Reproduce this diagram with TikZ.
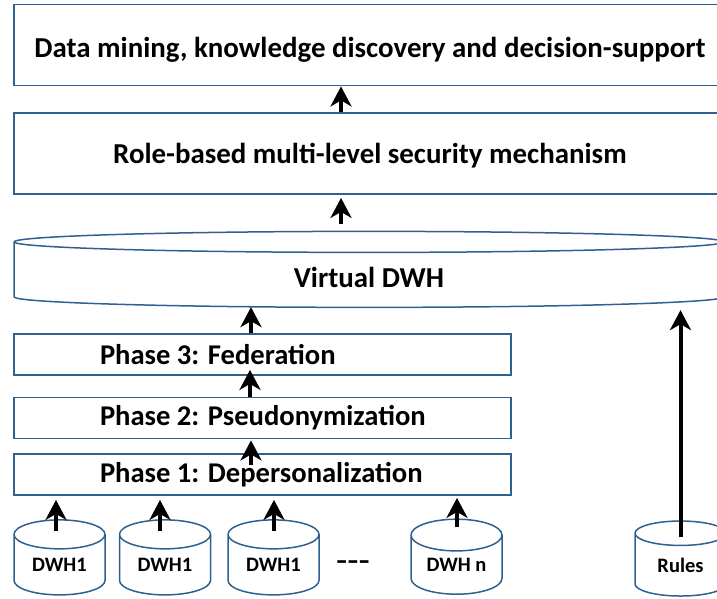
\documentclass[tikz,border=0pt]{standalone}
\usepackage{fontspec}
\setmainfont{Carlito}
\usetikzlibrary{arrows.meta,shapes.geometric}
\definecolor{borde}{RGB}{46,96,144}
\begin{document}
\begin{tikzpicture}[x=1pt,y=-1pt]

	\tikzstyle{capa} = [rectangle,draw=borde,line width=1.8pt,minimum width=712pt,minimum height=81pt,text height=27pt,text depth=6pt,font=\bfseries\fontsize{28.9}{32}\selectfont]
	\tikzstyle{fase} = [rectangle,draw=borde,line width=1.8pt,text width=497pt,inner xsep=0pt,inner ysep=0pt,minimum height=41pt,align=flush left,execute at begin node={\hspace*{86pt}},font=\bfseries\fontsize{28.6}{32}\selectfont]
	\tikzstyle{almacen} = [cylinder,shape border rotate=90,draw=borde,line width=1.5pt,aspect=0.53,minimum width=91pt,minimum height=75pt,inner sep=0pt,font=\bfseries\fontsize{20.5}{24}\selectfont]
	\tikzstyle{virtual} = [cylinder,shape border rotate=90,draw=borde,line width=1.5pt,aspect=0.14,minimum width=710pt,minimum height=76pt,inner sep=0pt,text height=24pt,text depth=0pt,font=\bfseries\fontsize{28.9}{32}\selectfont]
	\tikzstyle{flecha} = [-{Stealth[length=20pt,width=21pt,inset=6pt]},line width=4pt,black]

	\clip (0,0) rectangle (717,599);

	\node[capa,text height=31pt] (mining)	at (370,45)	{Data mining, knowledge discovery and decision-support};
	\node[capa] (security)	at (370,153.5)	{Role-based multi-level security mechanism};
	\node[virtual] (vdwh)	at (369,275)	{Virtual DWH};
	\node[fase] (fase3)	at (262.5,354.5)	{Phase 3: Federation};
	\node[fase] (fase2)	at (262.5,418)	{Phase 2: Pseudonymization};
	\node[fase] (fase1)	at (262.5,474.5)	{Phase 1: Depersonalization};
	\node[almacen] (dwha)	at (59.5,565)	{DWH1};
	\node[almacen] (dwhb)	at (165,565)	{DWH1};
	\node[almacen] (dwhc)	at (273.5,565)	{DWH1};
	\node[almacen] (dwhn)	at (456.5,565)	{DWH n};
	\node[almacen] (rules)	at (680.5,565)	{Rules};
	\node[font=\fontsize{37}{40}\selectfont] (puntos) at (353,567) {-{}-{}-};

	\draw[flecha] (security.north -| 341,0) -- (mining.south -| 341,0);
	\draw[flecha] ([yshift=7pt]vdwh.north -| 341,0) -- ([yshift=-3pt]security.south -| 341,0);
	\draw[flecha] (fase3.north -| 251,0) -- ([yshift=1pt]vdwh.south -| 251,0);
	\draw[flecha] (fase2.north -| 250,0) -- ([yshift=6pt]fase3.south -| 250,0);
	\draw[flecha] ([yshift=-12pt]fase1.north -| 251,0) -- ([yshift=-1pt]fase2.south -| 251,0);
	\draw[flecha] ([yshift=-12pt]dwha.north -| 56,0) -- ([yshift=-4pt]fase1.south -| 56,0);
	\draw[flecha] ([yshift=-12pt]dwhb.north -| 160,0) -- ([yshift=-4pt]fase1.south -| 160,0);
	\draw[flecha] ([yshift=-12pt]dwhc.north -| 274,0) -- ([yshift=-4pt]fase1.south -| 274,0);
	\draw[flecha] ([yshift=-9pt]dwhn.north -| 457,0) -- ([yshift=-2pt]fase1.south -| 457,0);
	\draw[flecha] ([yshift=-17pt]rules.north) -- ([yshift=-2pt]vdwh.south -| rules.north);

\end{tikzpicture}
\end{document}
